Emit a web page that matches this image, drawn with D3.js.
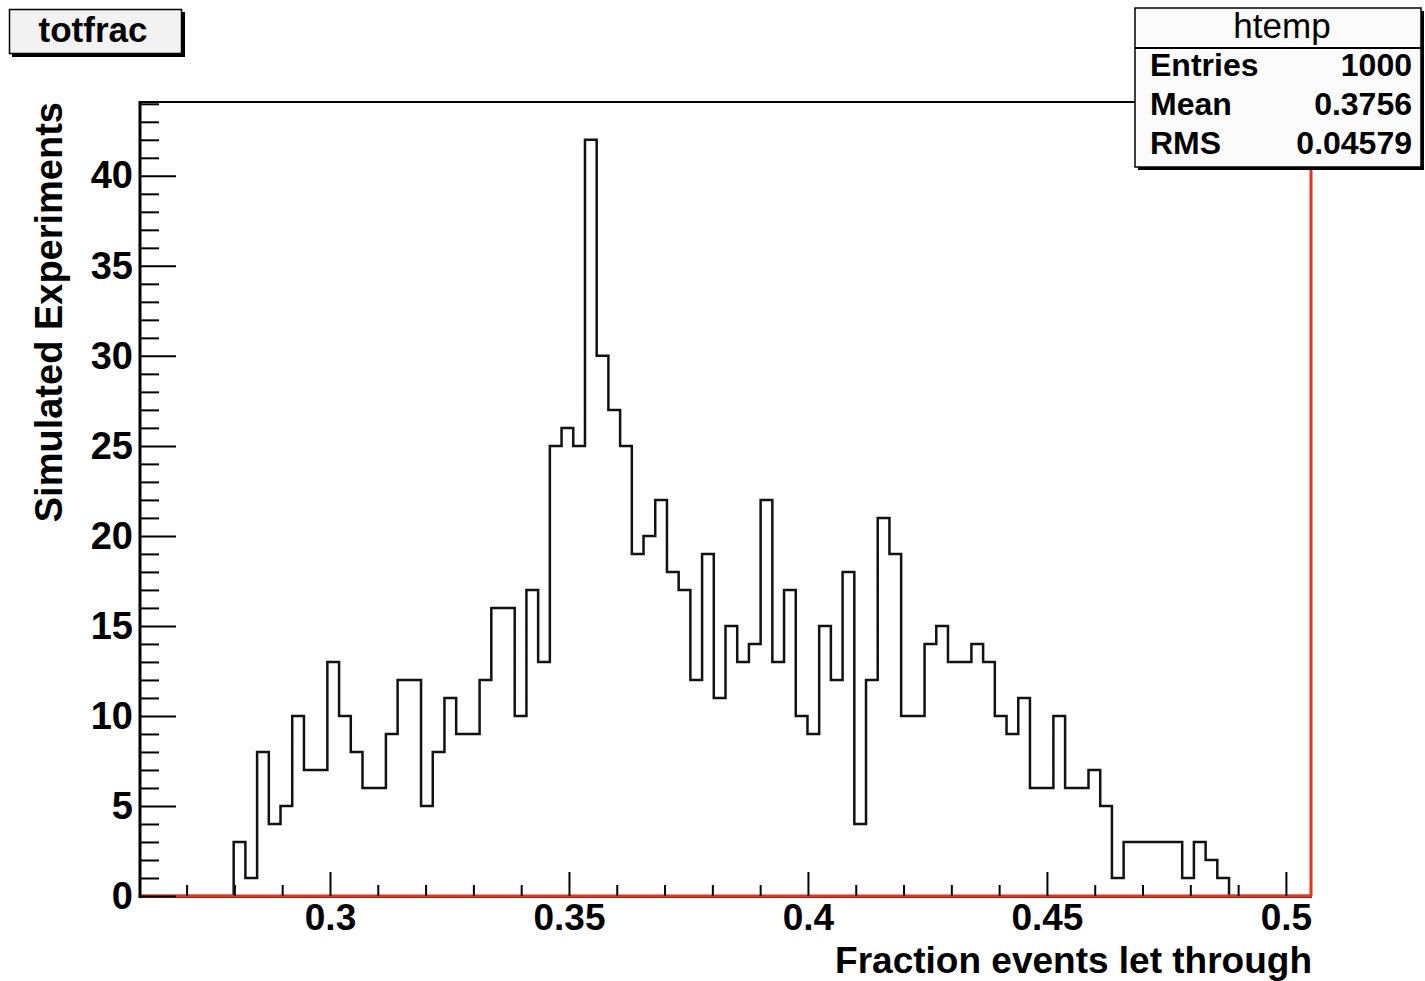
<!DOCTYPE html>
<html>
<head>
<meta charset="UTF-8">
<script src="https://cdn.jsdelivr.net/npm/d3@7"></script>
<style>
  body { margin: 0; background: #fff; }
  svg { display: block; font-family: "Liberation Sans", Arial, Helvetica, sans-serif; }
</style>
</head>
<body>
<div id="chart"></div>
<script>
// histogram range (100 bins, ROOT htemp)
const xMin = 0.26025;
const xMax = 0.50525;
const yMax = 44.1;

// bin contents
const binCounts = [
  0, 0, 0, 0, 0, 0, 0, 0,
  3, 1, 8, 4, 5, 10, 7, 7, 13, 10,
  8, 6, 6, 9, 12, 12, 5, 8, 11, 9,
  9, 12, 16, 16, 10, 17, 13, 25, 26, 25,
  42, 30, 27, 25, 19, 20, 22, 18, 17, 12,
  19, 11, 15, 13, 14, 22, 13, 17, 10, 9,
  15, 12, 18, 4, 12, 21, 19, 10, 10, 14,
  15, 13, 13, 14, 13, 10, 9, 11, 6, 6,
  10, 6, 6, 7, 5, 1, 3, 3, 3, 3,
  3, 1, 3, 2, 1,
  0, 0, 0, 0, 0, 0, 0
];

const xMajorTicks = [0.3, 0.35, 0.4, 0.45, 0.5];
const xMinorTicks = [0.27, 0.28, 0.29, 0.31, 0.32, 0.33, 0.34, 0.36, 0.37, 0.38, 0.39,
  0.41, 0.42, 0.43, 0.44, 0.46, 0.47, 0.48, 0.49];
const yMajorTicks = [0, 5, 10, 15, 20, 25, 30, 35, 40];
const yMinorTicks = [1, 2, 3, 4, 6, 7, 8, 9, 11, 12, 13, 14, 16, 17, 18, 19, 21, 22, 23, 24,
  26, 27, 28, 29, 31, 32, 33, 34, 36, 37, 38, 39, 41, 42, 43, 44];

const statNames = ["Entries", "Mean", "RMS"];
const statValues = ["1000", "0.3756", "0.04579"];

const W = 1425, H = 981;
const pLeft = 140, pRight = 1311, pTop = 102, pBottom = 896;

const svg = d3.select("#chart").append("svg")
  .attr("width", W)
  .attr("height", H);

const x = d3.scaleLinear().domain([xMin, xMax]).range([pLeft, pRight]);
const y = d3.scaleLinear().domain([0, yMax]).range([pBottom, pTop]);

const binW = (xMax - xMin) / binCounts.length;

// histogram outline (step)
const pts = binCounts.map((c, i) => [xMin + i * binW, c]);
pts.push([xMax, binCounts[binCounts.length - 1]]);

const step = d3.line()
  .x(d => x(d[0]))
  .y(d => y(d[1]))
  .curve(d3.curveStepAfter);

svg.append("path")
  .datum(pts)
  .attr("d", step)
  .attr("fill", "none")
  .attr("stroke", "#111")
  .attr("stroke-width", 2.5);

// frame
svg.append("line")
  .attr("x1", pLeft).attr("x2", pRight).attr("y1", pTop).attr("y2", pTop)
  .attr("stroke", "#000").attr("stroke-width", 2);
svg.append("line")
  .attr("x1", pRight).attr("x2", pRight).attr("y1", pTop).attr("y2", pBottom)
  .attr("stroke", "#e8321e").attr("stroke-width", 3);
svg.append("line")
  .attr("x1", pLeft).attr("x2", pRight + 1).attr("y1", pBottom + 1.5).attr("y2", pBottom + 1.5)
  .attr("stroke", "#222").attr("stroke-width", 1);
svg.append("line")
  .attr("x1", pLeft).attr("x2", pRight + 1).attr("y1", pBottom).attr("y2", pBottom)
  .attr("stroke", "#e8321e").attr("stroke-width", 3);
svg.append("line")
  .attr("x1", pLeft).attr("x2", pLeft).attr("y1", pTop - 1).attr("y2", pBottom + 2)
  .attr("stroke", "#000").attr("stroke-width", 3);

// x axis
const xAxisMinor = d3.axisBottom(x).tickValues(xMinorTicks).tickSize(-11).tickFormat("");
const xAxisMajor = d3.axisBottom(x).tickValues(xMajorTicks).tickSize(-24).tickPadding(8)
  .tickFormat(d3.format("~g"));

[xAxisMinor, xAxisMajor].forEach(ax => {
  const g = svg.append("g").attr("transform", `translate(0,${pBottom})`).call(ax);
  g.select(".domain").remove();
  g.selectAll("line").attr("stroke", "#000").attr("stroke-width", 2);
  g.selectAll("text")
    .attr("fill", "#000")
    .style("font-size", "37px")
    .style("font-weight", "bold");
});

// y axis
const yAxisMinor = d3.axisLeft(y).tickValues(yMinorTicks).tickSize(-19).tickFormat("");
const yAxisMajor = d3.axisLeft(y).tickValues(yMajorTicks).tickSize(-36).tickPadding(7);

[yAxisMinor, yAxisMajor].forEach(ax => {
  const g = svg.append("g").attr("transform", `translate(${pLeft},0)`).call(ax);
  g.select(".domain").remove();
  g.selectAll("line").attr("stroke", "#000").attr("stroke-width", 2);
  g.selectAll("text")
    .attr("fill", "#000")
    .style("font-size", "38px")
    .style("font-weight", "bold");
});

// axis titles
svg.append("text")
  .attr("x", pRight + 1).attr("y", 973)
  .attr("text-anchor", "end")
  .style("font-size", "37px").style("font-weight", "bold")
  .text("Fraction events let through");

svg.append("text")
  .attr("transform", `translate(62,${pTop}) rotate(-90)`)
  .attr("text-anchor", "end")
  .style("font-size", "38px").style("font-weight", "bold")
  .text("Simulated Experiments");

// title box
svg.append("rect").attr("x", 12).attr("y", 12).attr("width", 173).attr("height", 45).attr("fill", "#000");
svg.append("rect").attr("x", 9.5).attr("y", 9.5).attr("width", 172).attr("height", 44)
  .attr("fill", "#f2f2f2").attr("stroke", "#000").attr("stroke-width", 1.5);
svg.append("text")
  .attr("x", 93).attr("y", 42)
  .attr("text-anchor", "middle")
  .style("font-size", "35px").style("font-weight", "bold")
  .text("totfrac");

// stats box
const sx = 1135, sy = 8, sw = 286, sh = 159;
svg.append("rect").attr("x", sx + 3).attr("y", sy + 3).attr("width", sw).attr("height", sh).attr("fill", "#000");
svg.append("rect").attr("x", sx).attr("y", sy).attr("width", sw).attr("height", sh)
  .attr("fill", "#fbfbfb").attr("stroke", "#000").attr("stroke-width", 1.5);
svg.append("line")
  .attr("x1", sx).attr("x2", sx + sw).attr("y1", 48).attr("y2", 48)
  .attr("stroke", "#000").attr("stroke-width", 2);
svg.append("text")
  .attr("x", 1282).attr("y", 38)
  .attr("text-anchor", "middle")
  .style("font-size", "35px")
  .text("htemp");

const rowY = [76, 115, 154];
statNames.forEach((n, i) => {
  svg.append("text")
    .attr("x", 1150).attr("y", rowY[i])
    .style("font-size", "32px").style("font-weight", "bold")
    .text(n);
  svg.append("text")
    .attr("x", 1412).attr("y", rowY[i])
    .attr("text-anchor", "end")
    .style("font-size", "32px").style("font-weight", "bold")
    .text(statValues[i]);
});
</script>
</body>
</html>
